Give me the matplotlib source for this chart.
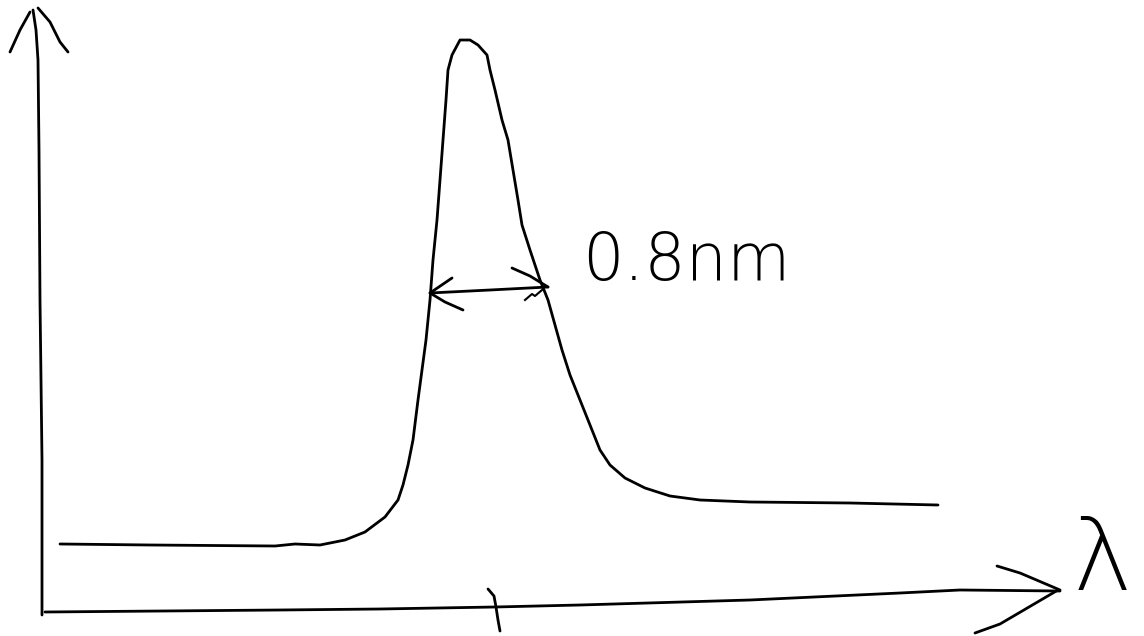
import matplotlib.pyplot as plt
import numpy as np

# hand-drawn spectrum peak (pixel-like units, y grows down)
peak_x = [60, 150, 275, 295, 320, 345, 365, 385, 398, 403, 408, 413, 418, 422,
          426, 430, 433, 437, 440, 443, 446, 448, 452, 460, 470, 478, 487, 490,
          495, 502, 508, 513, 518, 522, 530, 540, 548, 555, 562, 570, 580, 590,
          600, 610, 625, 645, 670, 700, 750, 850, 938]
peak_y = [544, 545, 546, 544, 545, 540, 532, 517, 500, 485, 465, 440, 400, 370,
          340, 300, 260, 220, 180, 140, 100, 70, 55, 40, 40, 45, 55, 70,
          90, 120, 140, 170, 200, 225, 250, 280, 300, 325, 350, 375, 400, 425,
          450, 465, 478, 488, 496, 500, 502, 503, 505]

# axes strokes
yaxis_x = [42, 42, 40, 39, 38, 36, 33]
yaxis_y = [615, 460, 300, 150, 60, 30, 10]
xaxis_x = [45, 280, 380, 495, 580, 750, 900, 960, 1060]
xaxis_y = [612, 610, 609, 607, 605, 600, 593, 590, 591]

fwhm_label = "0.8nm"
axis_label = "λ"

fig = plt.figure(figsize=(11.44, 6.36), dpi=100)
ax = fig.add_axes([0, 0, 1, 1])
ax.set_xlim(0, 1144)
ax.set_ylim(636, 0)
ax.axis("off")

kw = dict(color="black", lw=2, solid_capstyle="round", solid_joinstyle="round")

ax.plot(peak_x, peak_y, **kw)
ax.plot(yaxis_x, yaxis_y, **kw)
ax.plot(xaxis_x, xaxis_y, **kw)

# arrow heads on the axes
ax.plot([10, 20, 30], [52, 30, 12], **kw)
ax.plot([38, 50, 60, 68], [8, 22, 42, 52], **kw)
ax.plot([997, 1020, 1060], [566, 573, 590], **kw)
ax.plot([975, 1000, 1058], [633, 624, 590], **kw)

# tick mark on the x axis
ax.plot([488, 494, 496, 498, 500], [589, 596, 607, 620, 631], **kw)

# double-headed width arrow
ax.plot([430, 490, 548], [293, 290, 287], **kw)
ax.plot([452, 430, 445, 463], [278, 293, 302, 310], **kw)
ax.plot([512, 530, 548], [268, 276, 287], **kw)
ax.plot([525, 532, 535, 542], [300, 294, 296, 290], color="black", lw=1.5)

ax.text(582, 280, fwhm_label, fontsize=47, fontweight="light",
        family="DejaVu Sans", va="baseline", ha="left")
ax.text(1102, 590, axis_label, fontsize=72, fontweight="light",
        family="DejaVu Sans", va="baseline", ha="center")

fig.savefig("out.png", dpi=100)
